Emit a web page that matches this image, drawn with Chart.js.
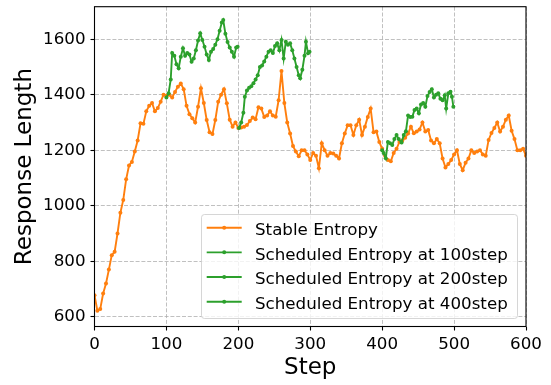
<!DOCTYPE html>
<html>
<head>
<meta charset="utf-8">
<script src="https://cdn.jsdelivr.net/npm/chart.js@4.4.1/dist/chart.umd.min.js"></script>
<style>
    html, body { margin: 0; padding: 0; background: #fff; }
    canvas { display: block; }
</style>
</head>
<body>
<canvas id="lengthChart" width="551" height="385"></canvas>
<script>
// Tick labels
const xTicks = [0, 100, 200, 300, 400, 500, 600];
const yTicks = [600, 800, 1000, 1200, 1400, 1600];

// Stable entropy run (every 4 steps)
const stableSteps = [
    0, 4, 8, 12, 16, 20, 24, 28, 32, 36,
    40, 44, 48, 52, 56, 60, 64, 68, 72, 76,
    80, 84, 88, 92, 96, 100, 104, 108, 112, 116,
    120, 124, 128, 132, 136, 140, 144, 148, 152, 156,
    160, 164, 168, 172, 176, 180, 184, 188, 192, 196,
    200, 204, 208, 212, 216, 220, 224, 228, 232, 236,
    240, 244, 248, 252, 256, 260, 264, 268, 272, 276,
    280, 284, 288, 292, 296, 300, 304, 308, 312, 316,
    320, 324, 328, 332, 336, 340, 344, 348, 352, 356,
    360, 364, 368, 372, 376, 380, 384, 388, 392, 396,
    400, 404, 408, 412, 416, 420, 424, 428, 432, 436,
    440, 444, 448, 452, 456, 460, 464, 468, 472, 476,
    480, 484, 488, 492, 496, 500, 504, 508, 512, 516,
    520, 524, 528, 532, 536, 540, 544, 548, 552, 556,
    560, 564, 568, 572, 576, 580, 584, 588, 592, 596,
    600
];
const stableLength = [
    678, 622, 628, 684, 720, 770, 822, 834, 900, 975,
    1021, 1095, 1145, 1158, 1195, 1235, 1297, 1295, 1340, 1360,
    1370, 1340, 1352, 1375, 1400, 1395, 1400, 1390, 1410, 1429,
    1440, 1420, 1360, 1330, 1315, 1300, 1357, 1423, 1370, 1309,
    1265, 1258, 1309, 1375, 1400, 1420, 1369, 1310, 1285, 1300,
    1280, 1282, 1285, 1291, 1305, 1318, 1312, 1355, 1350, 1320,
    1325, 1340, 1325, 1321, 1380, 1485, 1370, 1300, 1260, 1215,
    1195, 1178, 1200, 1200, 1185, 1165, 1190, 1180, 1135, 1225,
    1200, 1180, 1190, 1188, 1180, 1170, 1225, 1260, 1290, 1290,
    1255, 1290, 1310, 1255, 1285, 1320, 1350, 1265, 1267, 1230,
    1205, 1180, 1165, 1160, 1190, 1205, 1230, 1235, 1245, 1260,
    1285, 1261, 1267, 1275, 1300, 1267, 1273, 1235, 1225, 1240,
    1225, 1170, 1138, 1150, 1165, 1185, 1200, 1150, 1128, 1155,
    1170, 1200, 1190, 1195, 1200, 1185, 1180, 1237, 1262, 1280,
    1300, 1267, 1285, 1310, 1325, 1270, 1240, 1200, 1200, 1205,
    1180
];

// Scheduled entropy runs
const sched100Steps = [
    100, 103, 106, 108, 111, 114, 117, 120, 123, 126,
    129, 132, 135, 138, 141, 144, 147, 150, 153, 156,
    159, 162, 165, 168, 171, 174, 177, 179, 182, 185,
    188, 191, 194, 197, 199
];
const sched100Length = [
    1390, 1405, 1455, 1550, 1540, 1510, 1495, 1537, 1567, 1540,
    1550, 1545, 1519, 1530, 1560, 1595, 1621, 1597, 1573, 1545,
    1525, 1555, 1565, 1580, 1600, 1630, 1660, 1669, 1620, 1590,
    1570, 1555, 1537, 1570, 1573
];

const sched200Steps = [
    201, 204, 207, 209, 212, 215, 218, 221, 224, 227,
    230, 233, 236, 239, 242, 245, 248, 251, 254, 257,
    260, 263, 266, 269, 272, 275, 278, 281, 284, 286,
    289, 292, 294, 297, 299
];
const sched200Length = [
    1280, 1300, 1335, 1393, 1415, 1425, 1430, 1441, 1455, 1470,
    1500, 1505, 1520, 1537, 1555, 1560, 1550, 1575, 1585, 1560,
    1597, 1530, 1591, 1580, 1585, 1560, 1530, 1500, 1470, 1459,
    1490, 1540, 1591, 1549, 1555
];

const sched400Steps = [
    400, 402, 405, 408, 411, 414, 417, 420, 423, 427,
    430, 433, 436, 439, 442, 445, 448, 451, 454, 457,
    460, 463, 466, 469, 472, 475, 478, 481, 484, 487,
    489, 492, 495, 497, 499
];
const sched400Length = [
    1200, 1190, 1171, 1230, 1225, 1219, 1240, 1255, 1240, 1228,
    1255, 1268, 1325, 1320, 1321, 1345, 1350, 1333, 1365, 1370,
    1357, 1395, 1410, 1420, 1390, 1400, 1405, 1385, 1380, 1398,
    1350, 1405, 1411, 1393, 1357
];

const ORANGE = '#ff7f0e';
const GREEN = '#2ca02c';
const FONT = 'DejaVu Sans';

function toPoints(steps, values) {
    return steps.map((s, i) => ({ x: s, y: values[i] }));
}

function lineSet(label, steps, values, color, order) {
    return {
        label: label,
        data: toPoints(steps, values),
        borderColor: color,
        backgroundColor: color,
        borderWidth: 1.9,
        pointRadius: 2,
        pointBorderWidth: 0,
        pointHoverRadius: 0,
        tension: 0,
        order: order
    };
}

// Spines and the legend box, drawn over the plot like matplotlib does
const frameAndLegend = {
    id: 'frameAndLegend',
    afterDraw(chart) {
        const ctx = chart.ctx;
        const area = chart.chartArea;

        ctx.save();
        ctx.strokeStyle = '#000';
        ctx.lineWidth = 1.1;
        ctx.strokeRect(area.left, area.top, area.right - area.left, area.bottom - area.top);

        // legend
        ctx.beginPath();
        ctx.roundRect(201.5, 214.5, 316, 104, 3);
        ctx.fillStyle = 'rgba(255,255,255,0.8)';
        ctx.fill();
        ctx.strokeStyle = 'rgba(204,204,204,0.8)';
        ctx.lineWidth = 1;
        ctx.stroke();

        ctx.font = '16.7px "' + FONT + '"';
        ctx.textAlign = 'left';
        ctx.textBaseline = 'alphabetic';
        chart.data.datasets.forEach((ds, i) => {
            const y = 227.7 + i * 24.67;
            ctx.strokeStyle = ds.borderColor;
            ctx.lineWidth = 1.9;
            ctx.beginPath();
            ctx.moveTo(206.7, y);
            ctx.lineTo(241.7, y);
            ctx.stroke();
            ctx.fillStyle = ds.borderColor;
            ctx.beginPath();
            ctx.arc(224.2, y, 2, 0, Math.PI * 2);
            ctx.fill();
            ctx.fillStyle = '#000';
            ctx.fillText(ds.label, 255, 235 + i * 24.67);
        });
        ctx.restore();
    }
};

const tickFont = { family: FONT, size: 16.7 };
const titleFont = { family: FONT, size: 23 };
const gridOpts = {
    color: '#b0b0b0',
    lineWidth: 0.8,
    borderDash: [4, 1.8],
    tickColor: '#000',
    tickLength: 4,
    tickWidth: 1.1,
    tickBorderDash: []
};

new Chart(document.getElementById('lengthChart'), {
    type: 'line',
    data: {
        datasets: [
            lineSet('Stable Entropy', stableSteps, stableLength, ORANGE, 2),
            lineSet('Scheduled Entropy at 100step', sched100Steps, sched100Length, GREEN, 1),
            lineSet('Scheduled Entropy at 200step', sched200Steps, sched200Length, GREEN, 1),
            lineSet('Scheduled Entropy at 400step', sched400Steps, sched400Length, GREEN, 1)
        ]
    },
    options: {
        responsive: false,
        animation: false,
        devicePixelRatio: 1,
        layout: { padding: { left: 0, right: 25, top: 6.7, bottom: 0 } },
        plugins: {
            legend: { display: false },
            tooltip: { enabled: false }
        },
        scales: {
            x: {
                type: 'linear',
                min: 0,
                max: 600,
                afterBuildTicks: s => { s.ticks = xTicks.map(v => ({ value: v })); },
                afterFit: s => { s.height = 58.5; s.paddingLeft = 0; s.paddingRight = 0; },
                ticks: {
                    color: '#000', font: tickFont, padding: 4, maxRotation: 0, autoSkip: false,
                    callback: v => String(v)
                },
                grid: gridOpts,
                border: { display: false, dash: [4, 1.8] },
                title: {
                    display: true, text: 'Step', color: '#000', font: titleFont,
                    padding: { top: 0, bottom: 3.5 }
                }
            },
            y: {
                type: 'linear',
                min: 565,
                max: 1717,
                afterBuildTicks: s => { s.ticks = yTicks.map(v => ({ value: v })); },
                afterFit: s => { s.width = 94.5; s.paddingTop = 0; s.paddingBottom = 0; },
                ticks: { color: '#000', font: tickFont, padding: 5, callback: v => String(v) },
                grid: gridOpts,
                border: { display: false, dash: [4, 1.8] },
                title: {
                    display: true, text: 'Response Length', color: '#000', font: titleFont,
                    padding: { top: 11, bottom: 0 }
                }
            }
        }
    },
    plugins: [frameAndLegend]
});
</script>
</body>
</html>
